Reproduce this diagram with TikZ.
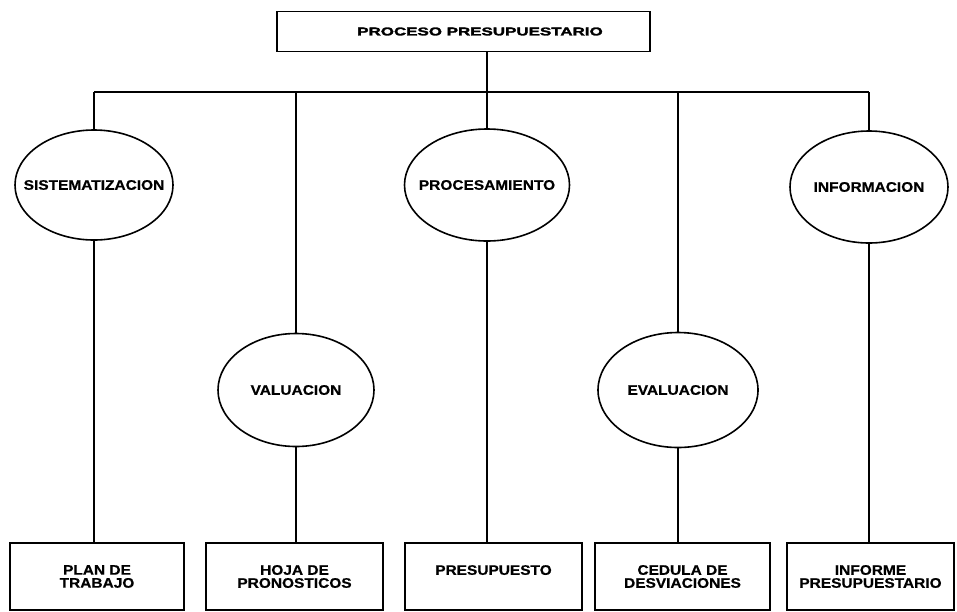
\documentclass[tikz,border=0pt]{standalone}
\usepackage{fontspec}
\setmainfont{Liberation Sans}
\newfontfamily\labelfont{Liberation Sans}[FakeStretch=1.12,FakeBold=0.6,BoldFont={* Bold}]
\newfontfamily\titlefont{Liberation Sans}[FakeStretch=1.5,FakeBold=2.4,BoldFont={* Bold}]
\usetikzlibrary{shapes.geometric}
\begin{document}
\begin{tikzpicture}[x=1pt,y=-1pt,
  wire/.style={line width=1.9pt},
  stage/.style={ellipse,draw,line width=1.6pt,inner xsep=-45pt,inner ysep=0pt,font=\labelfont\bfseries\fontsize{13.8}{13}\selectfont},
  outbox/.style={rectangle,draw,line width=1.6pt,inner sep=0pt,minimum height=67pt,align=center,font=\labelfont\bfseries\fontsize{13.8}{13}\selectfont},
  titlebox/.style={rectangle,draw,line width=1.6pt,inner sep=0pt,minimum width=373pt,minimum height=40pt,font=\titlefont\bfseries\fontsize{11.3}{13}\selectfont}]
\useasboundingbox[fill=white] (0,0) rectangle (957,611);

% root
\node[titlebox] (top) at (463.5,31.5) {\hspace*{33pt}PROCESO PRESUPUESTARIO};

% stages
\node[stage,minimum width=158pt,minimum height=110pt] (sis) at (94,185) {SISTEMATIZACION};
\node[stage,minimum width=156pt,minimum height=113pt] (val) at (296,390) {VALUACION};
\node[stage,minimum width=165pt,minimum height=112pt] (proc) at (487,185) {PROCESAMIENTO};
\node[stage,minimum width=160pt,minimum height=115pt] (eva) at (678,390) {EVALUACION};
\node[stage,minimum width=158pt,minimum height=112pt] (inf) at (869,187) {INFORMACION};

% outputs
\node[outbox,minimum width=174pt] (b1) at (97,576.5) {PLAN DE\\TRABAJO};
\node[outbox,minimum width=177pt] (b2) at (294.5,576.5) {HOJA DE\\PRONOSTICOS};
\node[outbox,minimum width=177pt] (b3) at (493.5,576.5) {PRESUPUESTO\\[0pt]\mbox{}};
\node[outbox,minimum width=175pt] (b4) at (682.5,576.5) {CEDULA DE\\DESVIACIONES};
\node[outbox,minimum width=167pt] (b5) at (870.5,576.5) {INFORME\\PRESUPUESTARIO};

% bus
\coordinate (bus) at (0,92);
\draw[wire] (top.south -| proc.north) -- (bus -| proc.north);
\draw[wire] (bus -| sis.north) -- (bus -| inf.north);
\foreach \n in {sis,val,proc,eva,inf}
  \draw[wire] (bus -| \n.north) -- (\n.north);

% stage to output
\draw[wire] (sis.south) -- (sis.south |- b1.north);
\draw[wire] (val.south) -- (val.south |- b2.north);
\draw[wire] (proc.south) -- (proc.south |- b3.north);
\draw[wire] (eva.south) -- (eva.south |- b4.north);
\draw[wire] (inf.south) -- (inf.south |- b5.north);
\end{tikzpicture}
\end{document}
